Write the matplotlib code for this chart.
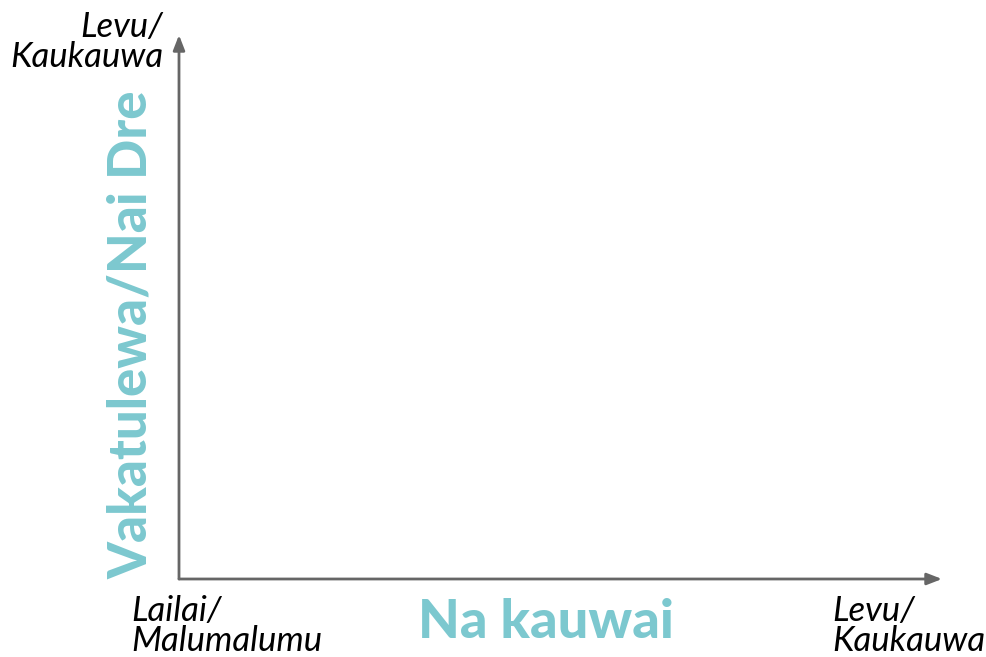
import matplotlib
matplotlib.use("Agg")
import matplotlib.pyplot as plt

# axis titles and end labels
x_title = "Na kauwai"
y_title = "Vakatulewa/Nai Dre"
x_low = "Lailai/\nMalumalumu"
x_high = "Levu/\nKaukauwa"
y_high = "Levu/\nKaukauwa"

teal = "#7cc8cf"
grey = "#666666"

plt.rcParams["font.family"] = ["Lato", "DejaVu Sans"]

fig = plt.figure(figsize=(9.87, 6.57), dpi=100)
W, H = 987, 657
ax = fig.add_axes([179 / W, (H - 579) / H, (942 - 179) / W, (579 - 35) / H])
ax.set_xlim(0, 1)
ax.set_ylim(0, 1)
ax.axis("off")

arrow = dict(arrowstyle="-|>,head_length=0.9,head_width=0.35", color=grey, lw=2,
             shrinkA=0, shrinkB=0)
ax.annotate("", xy=(1, 0), xytext=(0, 0), xycoords="axes fraction", arrowprops=arrow)
ax.annotate("", xy=(0, 1), xytext=(0, 0), xycoords="axes fraction", arrowprops=arrow)

fig.text(546 / W, 1 - 623 / H, x_title, color=teal, fontsize=39, fontweight="black",
         ha="center", va="center")
fig.text(131 / W, 1 - 335 / H, y_title, color=teal, fontsize=38, fontweight="black",
         ha="center", va="center", rotation=90)

light = dict(fontsize=25, fontstyle="italic", fontweight="normal", color="#000000",
             linespacing=0.9)
fig.text(131 / W, 1 - 626 / H, x_low, ha="left", va="center", **light)
fig.text(832 / W, 1 - 626 / H, x_high, ha="left", va="center", **light)
fig.text(163 / W, 1 - 42 / H, y_high, ha="right", va="center", multialignment="right",
         **light)

fig.savefig("out.png", dpi=100)
